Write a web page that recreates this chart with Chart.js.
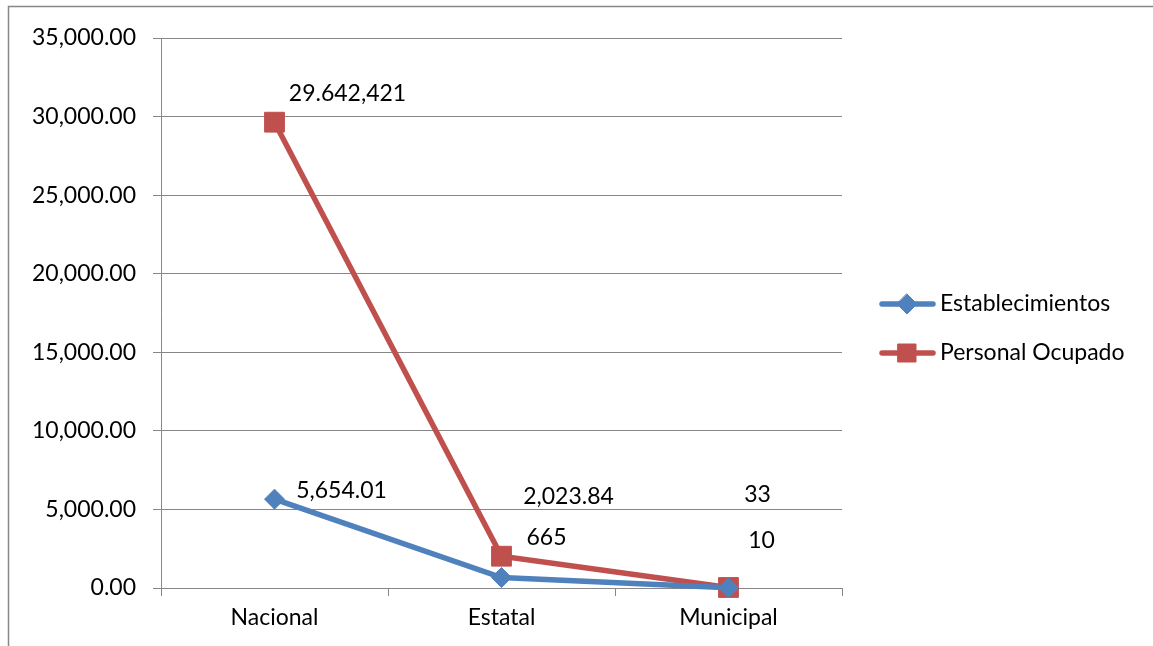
<!DOCTYPE html>
<html>
<head>
<meta charset="utf-8">
<script src="https://cdn.jsdelivr.net/npm/chart.js@4.4.1/dist/chart.umd.min.js"></script>
<style>
  body { margin: 0; background: #fff; }
  #wrap { width: 1153px; height: 646px; position: relative; }
</style>
</head>
<body>
<div id="wrap"><canvas id="myChart"></canvas></div>
<script>
// datos
let categorias = ['Nacional', 'Estatal', 'Municipal'];
let establecimientos = [5654.01, 665, 10];
let personalOcupado = [29642.421, 2023.84, 33];
let etiquetasEst = ['5,654.01', '665', '10'];
let etiquetasPers = ['29.642,421', '2,023.84', '33'];
let yTicksMax = 35000;
let yPaso = 5000;

// desplazamiento de las etiquetas respecto al punto (px)
let despEst = [[67, -9], [45, -40], [33, -47]];
let despPers = [[73, -29], [67, -60], [29, -93]];

let fuente = 'Lato, "Open Sans", sans-serif';
let azul = '#4F81BD';
let rojo = '#C0504D';
let gris = '#878787';

// marco, fondo
const marco = {
    id: 'marco',
    beforeDraw(chart) {
        const c = chart.ctx;
        c.save();
        c.fillStyle = '#fff';
        c.fillRect(0, 0, chart.width, chart.height);
        c.strokeStyle = gris;
        c.lineWidth = 1.5;
        c.beginPath();
        c.moveTo(8.5, chart.height + 2);
        c.lineTo(8.5, 6.5);
        c.lineTo(chart.width + 2, 6.5);
        c.stroke();
        c.restore();
    }
};

// etiquetas de datos
const etiquetas = {
    id: 'etiquetas',
    afterDatasetsDraw(chart) {
        const c = chart.ctx;
        c.save();
        c.font = '23px ' + fuente;
        c.fillStyle = '#000';
        c.textAlign = 'center';
        c.textBaseline = 'middle';
        const textos = [etiquetasEst, etiquetasPers];
        const desp = [despEst, despPers];
        chart.data.datasets.forEach((ds, d) => {
            chart.getDatasetMeta(d).data.forEach((p, i) => {
                c.fillText(textos[d][i], p.x + desp[d][i][0], p.y + desp[d][i][1]);
            });
        });
        c.restore();
    }
};

// leyenda a la derecha
const leyenda = {
    id: 'leyenda',
    afterDraw(chart) {
        const c = chart.ctx;
        const x0 = 880, y0 = 304, paso = 49;
        c.save();
        chart.data.datasets.forEach((ds, d) => {
            const y = y0 + d * paso;
            c.strokeStyle = ds.borderColor;
            c.lineWidth = 5.5;
            c.lineCap = 'round';
            c.beginPath();
            c.moveTo(x0 + 2, y);
            c.lineTo(x0 + 53, y);
            c.stroke();
            c.fillStyle = ds.pointBackgroundColor;
            c.strokeStyle = ds.pointBorderColor;
            c.lineWidth = 1;
            c.beginPath();
            if (ds.pointStyle === 'rect') {
                c.rect(x0 + 27 - 9, y - 9, 18, 18);
            } else {
                c.moveTo(x0 + 27, y - 10);
                c.lineTo(x0 + 37, y);
                c.lineTo(x0 + 27, y + 10);
                c.lineTo(x0 + 17, y);
                c.closePath();
            }
            c.fill();
            c.stroke();
            c.fillStyle = '#000';
            c.font = '23px ' + fuente;
            c.textBaseline = 'middle';
            c.fillText(ds.label, x0 + 60, y);
        });
        c.restore();
    }
};

const ctx = document.getElementById('myChart').getContext('2d');
const myChart = new Chart(ctx, {
    type: 'line',
    data: {
        labels: categorias,
        datasets: [
            {
                label: 'Establecimientos',
                data: establecimientos,
                borderColor: azul,
                backgroundColor: azul,
                pointBackgroundColor: azul,
                pointBorderColor: azul,
                pointStyle: 'rectRot',
                pointRadius: 10,
                pointBorderWidth: 1,
                borderWidth: 5.5,
                tension: 0,
                clip: false
            },
            {
                label: 'Personal Ocupado',
                data: personalOcupado,
                borderColor: rojo,
                backgroundColor: rojo,
                pointBackgroundColor: rojo,
                pointBorderColor: rojo,
                pointStyle: 'rect',
                pointRadius: 14,
                pointBorderWidth: 1,
                borderWidth: 5.5,
                tension: 0,
                clip: false
            }
        ]
    },
    options: {
        responsive: true,
        maintainAspectRatio: false,
        animation: false,
        layout: {
            padding: { left: 0, right: 311, top: 38, bottom: 0 }
        },
        scales: {
            x: {
                offset: true,
                grid: {
                    offset: true,
                    drawOnChartArea: false,
                    drawTicks: true,
                    tickLength: 8,
                    color: gris
                },
                border: { color: gris, width: 1 },
                ticks: {
                    color: '#000',
                    padding: 8,
                    font: { family: fuente, size: 23 }
                },
                afterFit(scale) { scale.height = 58; }
            },
            y: {
                min: 0,
                max: yTicksMax,
                ticks: {
                    stepSize: yPaso,
                    color: '#000',
                    padding: 17,
                    font: { family: fuente, size: 23 },
                    callback: v => v.toLocaleString('en-US', { minimumFractionDigits: 2, maximumFractionDigits: 2 })
                },
                grid: {
                    color: gris,
                    tickLength: 8
                },
                border: { color: gris, width: 1 },
                afterFit(scale) { scale.width = 161; }
            }
        },
        plugins: {
            legend: { display: false },
            tooltip: { enabled: false }
        }
    },
    plugins: [marco, etiquetas, leyenda]
});
</script>
</body>
</html>
